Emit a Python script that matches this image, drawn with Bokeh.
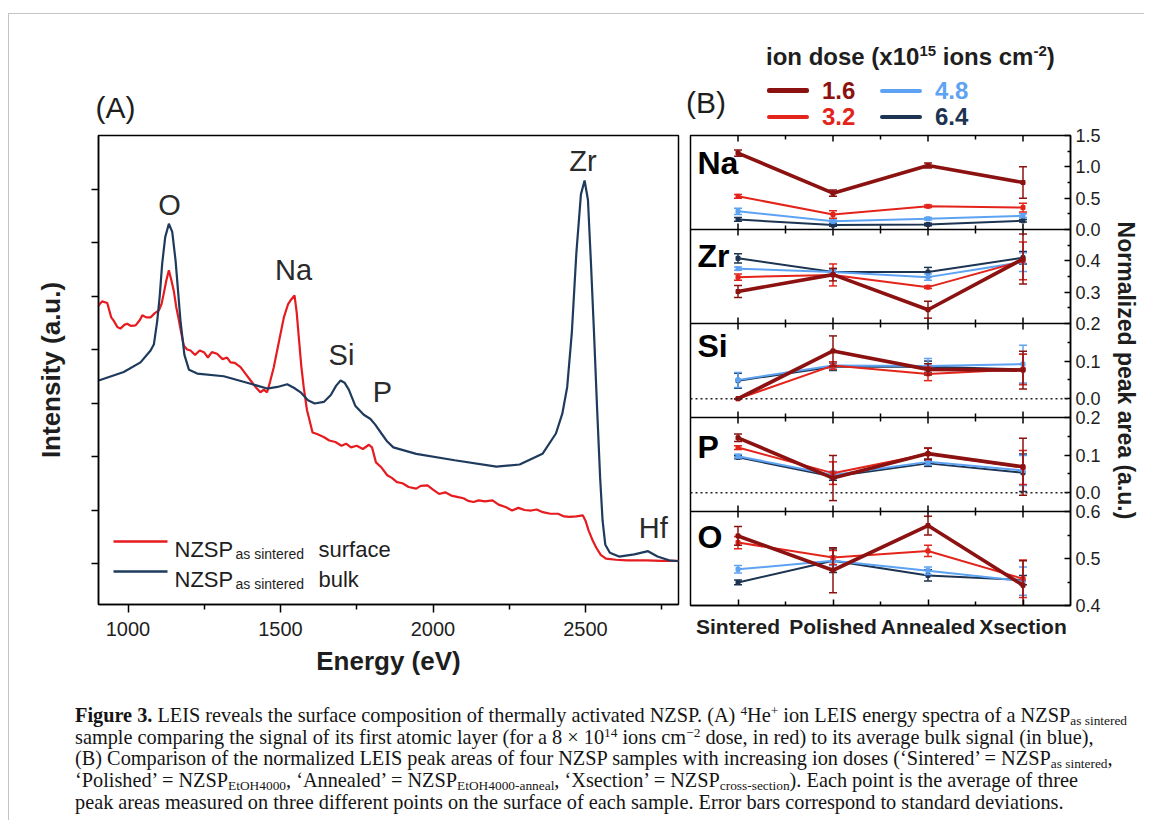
import numpy as np
from bokeh.plotting import figure
from bokeh.models import Range1d, FixedTicker, Label, Span, Div, CustomJSTickFormatter
from bokeh.layouts import column, row
from bokeh.embed import file_html
from bokeh.resources import INLINE
from bokeh.core.properties import value

# ---------------- Panel A data: LEIS energy spectra ----------------
energy_surface = [900, 915, 932, 945, 953, 965, 975, 988, 997, 1010, 1025, 1040, 1047, 1060, 1074,
                  1088, 1101, 1110, 1117, 1126, 1134, 1142, 1150, 1158, 1167, 1175, 1183, 1194, 1205,
                  1220, 1235, 1249, 1262, 1275, 1292, 1310, 1325, 1336, 1350, 1369, 1385, 1402, 1418,
                  1434, 1445, 1456, 1466, 1478, 1495, 1511, 1525, 1533, 1546, 1553, 1560, 1568, 1576,
                  1587, 1593, 1605, 1620, 1643, 1660, 1680, 1700, 1715, 1731, 1750, 1770, 1790, 1800,
                  1813, 1830, 1850, 1865, 1882, 1900, 1920, 1945, 1960, 1982, 2000, 2020, 2040, 2060,
                  2083, 2100, 2115, 2133, 2150, 2170, 2195, 2215, 2240, 2259, 2280, 2300, 2322, 2340,
                  2360, 2385, 2410, 2430, 2448, 2470, 2491, 2500, 2510, 2522, 2535, 2550, 2567, 2600,
                  2636, 2700, 2750, 2811]
intensity_surface = [4.80, 4.90, 4.87, 4.60, 4.54, 4.42, 4.39, 4.46, 4.48, 4.44, 4.45, 4.56, 4.64, 4.60,
                     4.60, 4.68, 4.73, 4.85, 5.04, 5.30, 5.48, 5.30, 5.10, 4.80, 4.54, 4.30, 4.07, 4.00,
                     3.98, 3.90, 3.98, 3.95, 3.85, 3.95, 3.92, 3.82, 3.85, 3.76, 3.75, 3.67, 3.55, 3.42,
                     3.30, 3.20, 3.25, 3.20, 3.40, 3.67, 4.15, 4.60, 4.85, 4.92, 5.01, 4.70, 4.23, 3.70,
                     3.30, 2.86, 2.73, 2.45, 2.42, 2.36, 2.30, 2.27, 2.20, 2.24, 2.17, 2.20, 2.14, 2.22,
                     2.17, 1.89, 1.80, 1.65, 1.60, 1.52, 1.50, 1.43, 1.40, 1.45, 1.46, 1.38, 1.30, 1.33,
                     1.27, 1.24, 1.22, 1.17, 1.15, 1.18, 1.16, 1.18, 1.10, 1.05, 0.99, 1.04, 1.00, 0.99,
                     1.01, 0.96, 0.93, 0.93, 0.88, 0.87, 0.88, 0.90, 0.80, 0.62, 0.45, 0.30, 0.16, 0.09,
                     0.07, 0.06, 0.06, 0.05, 0.05]
energy_bulk = [904, 986, 1041, 1074, 1085, 1096, 1104, 1112, 1122, 1134, 1145, 1156, 1164, 1172, 1185,
               1200, 1227, 1314, 1402, 1456, 1490, 1522, 1545, 1566, 1590, 1612, 1642, 1665, 1682, 1697,
               1710, 1724, 1745, 1773, 1795, 1810, 1831, 1850, 1870, 1945, 2071, 2208, 2284, 2359, 2403,
               2424, 2440, 2455, 2470, 2485, 2497, 2508, 2518, 2528, 2538, 2548, 2556, 2565, 2580, 2610,
               2660, 2705, 2736, 2774, 2811]
intensity_bulk = [3.42, 3.58, 3.76, 3.98, 4.10, 4.54, 5.00, 5.60, 6.10, 6.35, 6.20, 5.66, 5.10, 4.54,
                  3.90, 3.62, 3.55, 3.50, 3.36, 3.27, 3.30, 3.35, 3.28, 3.20, 3.05, 2.99, 3.02, 3.15,
                  3.32, 3.42, 3.38, 3.25, 2.95, 2.78, 2.70, 2.60, 2.43, 2.28, 2.17, 2.05, 1.93, 1.81,
                  1.85, 2.05, 2.43, 2.80, 3.30, 4.30, 5.80, 6.90, 7.16, 6.80, 5.60, 4.30, 2.90, 1.60,
                  0.80, 0.35, 0.20, 0.13, 0.17, 0.23, 0.13, 0.06, 0.04]
a_xticks = [1000, 1500, 2000, 2500]
a_xminor = [1250, 1750, 2250, 2750]
a_yticks = [0, 1, 2, 3, 4, 5, 6, 7]
peak_names = ["O", "Na", "Si", "P", "Zr", "Hf"]
peak_energy = [1136, 1543, 1700, 1834, 2492, 2722]
peak_height = [6.71, 5.48, 3.89, 3.20, 7.53, 0.67]

# ---------------- Panel B data: normalized peak areas ----------------
categories = ["Sintered", "Polished", "Annealed", "Xsection"]
doses = ["1.6", "3.2", "4.8", "6.4"]
panels = ["Na", "Zr", "Si", "P", "O"]

na_16 = [1.22, 0.58, 1.02, 0.75];     na_16_err = [0.05, 0.05, 0.04, 0.25]
na_32 = [0.53, 0.24, 0.37, 0.35];     na_32_err = [0.03, 0.06, 0.02, 0.07]
na_48 = [0.29, 0.13, 0.17, 0.22];     na_48_err = [0.05, 0.02, 0.02, 0.03]
na_64 = [0.16, 0.07, 0.08, 0.14];     na_64_err = [0.03, 0.02, 0.02, 0.02]

zr_16 = [0.302, 0.356, 0.244, 0.406]; zr_16_err = [0.019, 0.020, 0.027, 0.080]
zr_32 = [0.348, 0.355, 0.316, 0.400]; zr_32_err = [0.010, 0.035, 0.004, 0.060]
zr_48 = [0.375, 0.364, 0.348, 0.396]; zr_48_err = [0.005, 0.010, 0.010, 0.030]
zr_64 = [0.408, 0.364, 0.364, 0.410]; zr_64_err = [0.015, 0.010, 0.015, 0.020]

si_16 = [0.000, 0.127, 0.078, 0.076]; si_16_err = [0.000, 0.040, 0.015, 0.050]
si_32 = [0.000, 0.088, 0.066, 0.078]; si_32_err = [0.000, 0.010, 0.018, 0.040]
si_48 = [0.050, 0.088, 0.087, 0.092]; si_48_err = [0.020, 0.010, 0.020, 0.050]
si_64 = [0.048, 0.085, 0.085, 0.078]; si_64_err = [0.020, 0.010, 0.015, 0.040]

p_16 = [0.146, 0.039, 0.104, 0.069];  p_16_err = [0.010, 0.060, 0.015, 0.076]
p_32 = [0.120, 0.052, 0.103, 0.067];  p_32_err = [0.005, 0.030, 0.015, 0.045]
p_48 = [0.097, 0.047, 0.082, 0.059];  p_48_err = [0.005, 0.010, 0.008, 0.040]
p_64 = [0.094, 0.043, 0.078, 0.053];  p_64_err = [0.004, 0.010, 0.008, 0.050]

o_16 = [0.548, 0.475, 0.570, 0.443];  o_16_err = [0.020, 0.048, 0.020, 0.052]
o_32 = [0.534, 0.502, 0.516, 0.457];  o_32_err = [0.013, 0.015, 0.012, 0.040]
o_48 = [0.477, 0.495, 0.474, 0.452];  o_48_err = [0.008, 0.010, 0.008, 0.030]
o_64 = [0.449, 0.495, 0.464, 0.454];  o_64_err = [0.005, 0.025, 0.012, 0.010]

b_limits = {"Na": (0.0, 1.5), "Zr": (0.2, 0.5), "Si": (-0.05, 0.2), "P": (-0.05, 0.2), "O": (0.4, 0.6)}
b_ticks = {"Na": [0.0, 0.5, 1.0, 1.5], "Zr": [0.2, 0.3, 0.4], "Si": [0.0, 0.1, 0.2],
           "P": [0.0, 0.1, 0.2], "O": [0.4, 0.5, 0.6]}
b_minor = {"Na": [0.25, 0.75, 1.25], "Zr": [0.25, 0.35, 0.45], "Si": [0.05, 0.15],
           "P": [0.05, 0.15], "O": [0.45, 0.55]}
zero_line_panels = ["Si", "P"]

SERIES = {
    "Na": {"1.6": (na_16, na_16_err), "3.2": (na_32, na_32_err), "4.8": (na_48, na_48_err), "6.4": (na_64, na_64_err)},
    "Zr": {"1.6": (zr_16, zr_16_err), "3.2": (zr_32, zr_32_err), "4.8": (zr_48, zr_48_err), "6.4": (zr_64, zr_64_err)},
    "Si": {"1.6": (si_16, si_16_err), "3.2": (si_32, si_32_err), "4.8": (si_48, si_48_err), "6.4": (si_64, si_64_err)},
    "P":  {"1.6": (p_16, p_16_err),   "3.2": (p_32, p_32_err),   "4.8": (p_48, p_48_err),   "6.4": (p_64, p_64_err)},
    "O":  {"1.6": (o_16, o_16_err),   "3.2": (o_32, o_32_err),   "4.8": (o_48, o_48_err),   "6.4": (o_64, o_64_err)},
}

# ---------------- styles ----------------
SANS = "Liberation Sans"
INK = "#1e1e1e"
SURF_RED = "#e61b1f"
BULK_BLUE = "#1e3a5c"
DOSE_COLOR = {"1.6": "#8c1212", "3.2": "#e3241b", "4.8": "#5ea3f3", "6.4": "#1c3452"}
DOSE_WIDTH = {"1.6": 3.6, "3.2": 2.0, "4.8": 2.0, "6.4": 2.0}

# layout: root content origin is page (9, 14)
OX, OY = 9, 14

# ---- Panel A frame geometry (page px) and mapping helpers
A_L, A_R, A_T, A_B = 98, 678, 135, 604
def ax(px):
    return 1000 + (px - 127.5) * 500.0 / 152.5
def ay(py):
    return (563 - py) / 53.5

A_W = 675
A_H = 676
figA = figure(width=A_W, height=A_H, output_backend="svg", toolbar_location=None,
              x_range=Range1d(ax(A_L), ax(A_R)), y_range=Range1d(ay(A_B), ay(A_T)),
              min_border_left=A_L - OX, min_border_right=A_W - (A_R - OX),
              min_border_top=A_T - OY, min_border_bottom=A_H - (A_B - OY),
              outline_line_color="black", outline_line_width=1.5,
              background_fill_color="white", border_fill_color="white")
figA.grid.visible = False
figA.title.text = "(A)"
figA.title.align = "left"
figA.title.offset = -3
figA.title.standoff = 24
figA.title.text_font = SANS
figA.title.text_font_size = "30px"
figA.title.text_font_style = "normal"
figA.title.text_color = INK

xa = figA.xaxis[0]
xa.ticker = FixedTicker(ticks=a_xticks, minor_ticks=a_xminor)
xa.major_tick_in = 0; xa.major_tick_out = 8
xa.minor_tick_in = 0; xa.minor_tick_out = 5
xa.axis_line_width = 1.5; xa.major_tick_line_width = 1.5; xa.minor_tick_line_width = 1.5
xa.major_label_text_font = SANS; xa.major_label_text_font_size = "20px"
xa.major_label_text_color = INK; xa.major_label_standoff = 9
xa.axis_label = "Energy (eV)"
xa.axis_label_text_font = SANS; xa.axis_label_text_font_size = "26px"
xa.axis_label_text_font_style = "bold"; xa.axis_label_text_color = INK
xa.axis_label_standoff = 7

ya = figA.yaxis[0]
ya.ticker = FixedTicker(ticks=a_yticks, minor_ticks=[])
ya.formatter = CustomJSTickFormatter(code="return '';")
ya.major_label_text_color = None
ya.major_label_standoff = 0
ya.major_tick_in = 0; ya.major_tick_out = 7
ya.minor_tick_in = 0; ya.minor_tick_out = 0
ya.axis_line_width = 1.5; ya.major_tick_line_width = 1.5
ya.axis_label = "Intensity (a.u.)"
ya.axis_label_text_font = SANS; ya.axis_label_text_font_size = "26px"
ya.axis_label_text_font_style = "bold"; ya.axis_label_text_color = INK
ya.axis_label_standoff = 26

figA.line(energy_surface, intensity_surface, line_color=SURF_RED, line_width=2.2)
figA.line(energy_bulk, intensity_bulk, line_color=BULK_BLUE, line_width=2.2)

for name, e, h in zip(peak_names, peak_energy, peak_height):
    figA.add_layout(Label(x=e, y=h, text=name, text_font=SANS, text_font_size="29px",
                          text_color="#2a2a2a", text_align="center", text_baseline="middle"))

# legend of A (drawn inside the frame)
figA.segment(x0=[ax(113)], y0=[ay(541)], x1=[ax(167)], y1=[ay(541)], line_color=SURF_RED, line_width=2.5)
figA.segment(x0=[ax(113)], y0=[ay(571)], x1=[ax(167)], y1=[ay(571)], line_color=BULK_BLUE, line_width=2.5)
for base, word in ((548.5, "surface"), (578.5, "bulk")):
    figA.text(x=[ax(174)], y=[ay(base)], text=["NZSP"], text_font=value(SANS), text_font_size="22px",
              text_color=INK, text_baseline="alphabetic", text_align="left")
    figA.text(x=[ax(235)], y=[ay(base + 5)], text=["as sintered"], text_font=value(SANS),
              text_font_size="14px", text_color=INK, text_baseline="alphabetic", text_align="left")
    figA.text(x=[ax(318)], y=[ay(base)], text=[word], text_font=value(SANS), text_font_size="22px",
              text_color=INK, text_baseline="alphabetic", text_align="left")

# ---- Panel B
B_L, B_R, B_T, B_B = 690, 1070, 135, 605
B_X0 = OX + A_W           # page x where column B starts
B_W = 460
B_TOPPAD = 8
LEG_H = B_T - OY - B_TOPPAD
BAND = (B_B - B_T) / len(panels)
FH = B_B - B_T
ncat = len(categories)
xs = list(range(ncat))
CAT_STEP = (B_R - B_L) / ncat

def bx(px):
    return -0.5 + (px - B_L) / CAT_STEP
def by(py):
    return B_B - py

figB = figure(width=B_W, height=A_H - LEG_H, output_backend="svg", toolbar_location=None,
              x_range=Range1d(-0.5, ncat - 0.5), y_range=Range1d(0, FH),
              x_axis_location="below", y_axis_location="right",
              min_border_left=B_L - B_X0, min_border_right=B_X0 + B_W - B_R,
              min_border_top=B_TOPPAD, min_border_bottom=A_H - LEG_H - B_TOPPAD - FH,
              outline_line_color="black", outline_line_width=1.5,
              background_fill_color="white", border_fill_color="white")
figB.grid.visible = False
figB.title.text_font_size = "1px"
figB.title.standoff = 0

extra = {}
tick_pos, tick_lab, minor_pos = [], [], []
for k, name in enumerate(panels):
    lo, hi = b_limits[name]
    b1 = FH - k * BAND
    b0 = b1 - BAND
    s = BAND / (hi - lo)
    extra[name] = Range1d(lo - b0 / s, hi + (FH - b1) / s)
    for v in b_ticks[name]:
        m = b0 + (v - lo) * s
        if not any(abs(m - q) < 0.5 for q in tick_pos):
            tick_pos.append(m); tick_lab.append(f"{v:.1f}")
    for v in b_minor[name]:
        minor_pos.append(b0 + (v - lo) * s)
    if name in zero_line_panels:
        figB.add_layout(Span(location=b0 + (0 - lo) * s, dimension="width", line_color="#222222",
                             line_width=1.6, line_dash="2 3"))
    if k > 0:
        figB.add_layout(Span(location=b1, dimension="width", line_color="black", line_width=1.5))
figB.extra_y_ranges = extra

yb = figB.yaxis[0]
yb.ticker = FixedTicker(ticks=tick_pos, minor_ticks=minor_pos)
yb.formatter = CustomJSTickFormatter(args=dict(pos=tick_pos, lab=tick_lab), code="""
for (let i = 0; i < pos.length; i++) { if (Math.abs(pos[i] - tick) < 0.01) { return lab[i]; } }
return "";
""")
yb.major_tick_in = 6; yb.major_tick_out = 0
yb.minor_tick_in = 3; yb.minor_tick_out = 0
yb.axis_line_width = 1.5; yb.major_tick_line_width = 1.5; yb.minor_tick_line_width = 1.5
yb.major_label_text_font = SANS; yb.major_label_text_font_size = "18px"
yb.major_label_text_color = INK; yb.major_label_standoff = 5
yb.axis_label = "Normalized peak area (a.u.)"
yb.axis_label_text_font = SANS; yb.axis_label_text_font_size = "23px"
yb.axis_label_text_font_style = "bold"; yb.axis_label_text_color = INK
yb.axis_label_standoff = 9

xb = figB.xaxis[0]
xb.ticker = FixedTicker(ticks=xs, minor_ticks=[i + 0.5 for i in xs[:-1]])
xb.major_label_overrides = {i: c for i, c in zip(xs, categories)}
xb.major_tick_in = 6; xb.major_tick_out = 0
xb.minor_tick_in = 4; xb.minor_tick_out = 0
xb.axis_line_width = 1.5; xb.major_tick_line_width = 1.5; xb.minor_tick_line_width = 1.5
xb.major_label_text_font = SANS; xb.major_label_text_font_size = "21px"
xb.major_label_text_font_style = "bold"; xb.major_label_text_color = INK
xb.major_label_standoff = 9

# inward ticks along internal boundaries and the top edge
bounds = [FH - k * BAND for k in range(len(panels))]
figB.scatter(x=[x for x in xs for _ in bounds], y=[b for _ in xs for b in bounds], marker="dash",
             angle=np.pi / 2, size=12, line_color="black", line_width=1.5)
mids = [i + 0.5 for i in xs[:-1]]
figB.scatter(x=[x for x in mids for _ in bounds], y=[b for _ in mids for b in bounds], marker="dash",
             angle=np.pi / 2, size=8, line_color="black", line_width=1.5)

for name in panels:
    for d in ["6.4", "4.8", "3.2", "1.6"]:
        vals, errs = SERIES[name][d]
        lo_ = [v - e for v, e in zip(vals, errs)]
        hi_ = [v + e for v, e in zip(vals, errs)]
        c = DOSE_COLOR[d]
        figB.segment(x0=xs, y0=lo_, x1=xs, y1=hi_, y_range_name=name, line_color=c, line_width=1.5)
        figB.scatter(xs, lo_, y_range_name=name, marker="dash", size=8, line_color=c, line_width=1.5)
        figB.scatter(xs, hi_, y_range_name=name, marker="dash", size=8, line_color=c, line_width=1.5)
        figB.line(xs, vals, y_range_name=name, line_color=c, line_width=DOSE_WIDTH[d])
        figB.scatter(xs, vals, y_range_name=name, marker="square", size=4, fill_color=c, line_color=c)

elem_y = {"Na": 162.5, "Zr": 255.5, "Si": 345.5, "P": 446, "O": 536}
for name in panels:
    figB.add_layout(Label(x=bx(697), y=by(elem_y[name]), text=name, text_font=SANS,
                          text_font_size="32px", text_font_style="bold", text_color="black",
                          text_align="left", text_baseline="middle"))

# legend strip above panel B (HTML, absolutely placed inside the strip)
def pos_style(px, py):
    return f"position:absolute;left:{px - B_X0}px;top:{py - OY}px;"
parts = []
parts.append(f'<div style="{pos_style(686, 88)}font-size:30px;line-height:30px;color:{INK};">(B)</div>')
parts.append(f'<div style="{pos_style(766, 45)}font-size:24px;line-height:24px;font-weight:bold;'
             f'color:{INK};white-space:nowrap;">ion dose (x10<sup style="font-size:15px;line-height:0;">15</sup>'
             f' ions cm<sup style="font-size:15px;line-height:0;">-2</sup>)</div>')
leg_pos = {"1.6": (767, 89.5), "3.2": (767, 115.5), "4.8": (880, 89.5), "6.4": (880, 115.5)}
for d in doses:
    lx, lyy = leg_pos[d]
    th = 5 if d == "1.6" else 4
    parts.append(f'<div style="{pos_style(lx, lyy - th / 2 + 1)}width:42px;height:{th}px;'
                 f'background:{DOSE_COLOR[d]};border-radius:2px;"></div>')
    parts.append(f'<div style="{pos_style(lx + 55, lyy - 11)}font-size:24px;line-height:24px;'
                 f'font-weight:bold;color:{DOSE_COLOR[d]};">{d}</div>')
leg_html = (f'<div style="position:relative;width:{B_W}px;height:{LEG_H}px;'
            f'font-family:\'Liberation Sans\',Arial,sans-serif;">' + "".join(parts) + "</div>")
legB = Div(text=leg_html, width=B_W, height=LEG_H, margin=0)

# caption
def sup(t):
    return f'<span style="font-size:66%;position:relative;top:-0.5em;line-height:0">{t}</span>'
def sub(t):
    return f'<span style="font-size:66%;position:relative;top:0.22em;line-height:0">{t}</span>'
cap_lines = [
    "<b>Figure 3.</b> LEIS reveals the surface composition of thermally activated NZSP. (A) "
    + sup("4") + "He" + sup("+") + " ion LEIS energy spectra of a NZSP" + sub("as sintered"),
    "sample comparing the signal of its first atomic layer (for a 8 &times; 10" + sup("14")
    + " ions cm" + sup("&minus;2") + " dose, in red) to its average bulk signal (in blue),",
    "(B) Comparison of the normalized LEIS peak areas of four NZSP samples with increasing ion doses "
    "(&lsquo;Sintered&rsquo; = NZSP" + sub("as sintered") + ",",
    "&lsquo;Polished&rsquo; = NZSP" + sub("EtOH4000") + ", &lsquo;Annealed&rsquo; = NZSP"
    + sub("EtOH4000-anneal") + ", &lsquo;Xsection&rsquo; = NZSP" + sub("cross-section")
    + "). Each point is the average of three",
    "peak areas measured on three different points on the surface of each sample. "
    "Error bars correspond to standard deviations.",
]
cap_html = ('<div style="font-family:\'Liberation Serif\',serif;font-size:20.3px;line-height:21.7px;'
            f'color:#151515;white-space:nowrap;padding-left:{75 - OX}px;padding-top:15px;">'
            + "<br>".join(cap_lines) + "</div>")
caption = Div(text=cap_html, width=A_W + B_W, height=130, margin=0)

root = column(row(figA, column(legB, figB)), caption,
              styles={"margin-left": "8px", "margin-top": "13px", "border-top": "1px solid #c4c4c4",
                      "border-left": "1px solid #c4c4c4"})

open("out.html", "w").write(file_html(root, INLINE))
